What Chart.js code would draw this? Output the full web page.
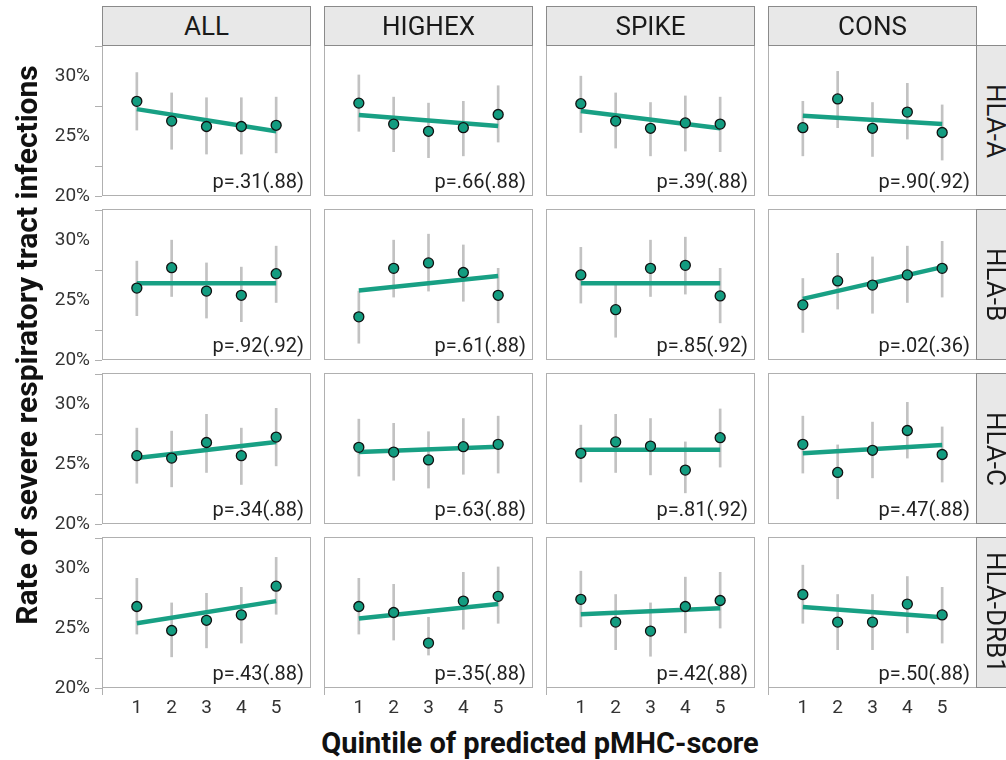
<!DOCTYPE html>
<html>
<head>
<meta charset="utf-8">
<script src="https://cdn.jsdelivr.net/npm/chart.js@4.4.1/dist/chart.umd.min.js"></script>
<style>
  body { margin: 0; background: #fff; font-family: Roboto, sans-serif; }
  #wrap { position: relative; width: 1006px; height: 760px; overflow: hidden; }
  canvas { position: absolute; }
  .strip { position: absolute; background: #e8e8e8; border: 1px solid #8a8a8a; box-sizing: border-box;
           color: #1a1a1a; font-size: 26px; display: flex; align-items: center; justify-content: center; }
  .rstrip { writing-mode: vertical-rl; }
  .title { position: absolute; font-weight: bold; font-size: 29px; color: #111; white-space: nowrap; }
</style>
</head>
<body>
<div id="wrap"></div>
<script>
// facets
var groups = ['ALL', 'HIGHEX', 'SPIKE', 'CONS'];
var genes = ['HLA-A', 'HLA-B', 'HLA-C', 'HLA-DRB1'];
var quintiles = [1, 2, 3, 4, 5];
var yTicks = [20, 22.5, 25, 27.5, 30, 32.5];
var xTicks = [0, 1, 2, 3, 4, 5, 6];

// rate (%) per quintile, one row per group (ALL, HIGHEX, SPIKE, CONS)
var rateA = [[27.9, 26.25, 25.8, 25.8, 25.9], [27.75, 26.0, 25.4, 25.7, 26.8], [27.7, 26.25, 25.65, 26.1, 26.0], [25.7, 28.1, 25.65, 27.0, 25.3]];
var lowA  = [[25.5, 23.9, 23.5, 23.5, 23.6], [25.4, 23.7, 23.2, 23.35, 24.5], [25.3, 24.0, 23.35, 23.75, 23.7], [23.35, 25.7, 23.3, 24.75, 23.0]];
var highA = [[30.3, 28.6, 28.2, 28.2, 28.25], [30.1, 28.25, 27.75, 27.9, 29.2], [30.0, 28.6, 27.8, 28.35, 28.25], [27.9, 30.4, 27.8, 29.4, 27.6]];
var fitA  = [[27.25, 25.4], [26.75, 25.85], [27.1, 25.65], [26.7, 26.0]];
var pA    = ['p=.31(.88)', 'p=.66(.88)', 'p=.39(.88)', 'p=.90(.92)'];

var rateB = [[26.0, 27.7, 25.75, 25.4, 27.2], [23.6, 27.65, 28.1, 27.3, 25.4], [27.1, 24.2, 27.65, 27.9, 25.35], [24.6, 26.6, 26.25, 27.1, 27.65]];
var lowB  = [[23.7, 25.3, 23.5, 23.2, 24.8], [21.4, 25.25, 25.75, 24.9, 23.1], [24.75, 21.9, 25.3, 25.5, 23.1], [22.3, 24.25, 23.9, 24.8, 25.25]];
var highB = [[28.25, 30.0, 28.1, 27.75, 29.5], [25.75, 30.0, 30.5, 29.6, 27.65], [29.4, 26.4, 30.0, 30.25, 27.65], [26.8, 28.9, 28.6, 29.5, 29.9]];
var fitB  = [[26.4, 26.4], [25.8, 27.0], [26.4, 26.4], [25.1, 27.75]];
var pB    = ['p=.92(.92)', 'p=.61(.88)', 'p=.85(.92)', 'p=.02(.36)'];

var rateC = [[25.7, 25.5, 26.8, 25.7, 27.25], [26.4, 26.0, 25.35, 26.45, 26.65], [25.9, 26.85, 26.5, 24.5, 27.2], [26.65, 24.3, 26.15, 27.8, 25.8]];
var lowC  = [[23.4, 23.1, 24.3, 23.3, 24.85], [24.0, 23.65, 23.0, 24.15, 24.25], [23.5, 24.3, 24.1, 22.6, 24.75], [24.25, 22.1, 23.85, 25.5, 23.5]];
var highC = [[28.0, 27.75, 29.15, 28.0, 29.65], [28.75, 28.4, 27.7, 28.8, 29.0], [28.25, 29.15, 28.8, 26.85, 29.6], [29.0, 26.6, 28.5, 30.15, 28.1]];
var fitC  = [[25.5, 26.85], [26.0, 26.45], [26.2, 26.2], [25.9, 26.6]];
var pC    = ['p=.34(.88)', 'p=.63(.88)', 'p=.81(.92)', 'p=.47(.88)'];

var rateD = [[26.8, 24.8, 25.65, 26.1, 28.5], [26.8, 26.3, 23.75, 27.25, 27.65], [27.4, 25.5, 24.75, 26.8, 27.3], [27.8, 25.5, 25.5, 27.0, 26.1]];
var lowD  = [[24.5, 22.6, 23.35, 23.75, 26.15], [24.5, 24.0, 22.75, 24.9, 25.4], [25.1, 23.2, 22.65, 24.6, 25.0], [25.4, 23.2, 23.2, 24.6, 23.75]];
var highD = [[29.15, 27.1, 27.9, 28.4, 30.9], [29.15, 28.65, 25.9, 29.65, 30.1], [29.75, 27.8, 27.1, 29.25, 29.65], [30.25, 27.8, 27.8, 29.3, 28.4]];
var fitD  = [[25.4, 27.25], [25.8, 27.0], [26.15, 26.65], [26.75, 25.9]];
var pD    = ['p=.43(.88)', 'p=.35(.88)', 'p=.42(.88)', 'p=.50(.88)'];

var rates = [rateA, rateB, rateC, rateD];
var lows = [lowA, lowB, lowC, lowD];
var highs = [highA, highB, highC, highD];
var fits = [fitA, fitB, fitC, fitD];
var pvals = [pA, pB, pC, pD];

// layout
var colLeft = [102, 324, 546, 768];
var rowTop = [45, 209, 373, 537];
var panelW = 209, panelH = 151;
var yAxisW = 62, xAxisH = 34, labelRoom = 12;

var wrap = document.getElementById('wrap');

function addDiv(cls, x, y, w, h, text) {
    var d = document.createElement('div');
    d.className = cls;
    d.style.left = x + 'px'; d.style.top = y + 'px';
    d.style.width = w + 'px'; d.style.height = h + 'px';
    d.textContent = text;
    wrap.appendChild(d);
    return d;
}

// panel border + p-value label
var panelDecor = {
    id: 'panelDecor',
    beforeDatasetsDraw: function(chart) {
        var a = chart.chartArea, ctx = chart.ctx;
        ctx.save();
        ctx.strokeStyle = '#b0b0b0';
        ctx.lineWidth = 1;
        ctx.strokeRect(a.left + 0.5, a.top + 0.5, a.right - a.left - 1, a.bottom - a.top - 1);
        ctx.restore();
    },
    afterDatasetsDraw: function(chart, args, opts) {
        var a = chart.chartArea, ctx = chart.ctx;
        ctx.save();
        ctx.font = '20px Roboto';
        ctx.fillStyle = '#222';
        ctx.textAlign = 'right';
        ctx.textBaseline = 'alphabetic';
        ctx.fillText(opts.label, a.right - 7, a.bottom - 8);
        ctx.restore();
    }
};

// fixed axis sizes so every panel has the same plot area
function fixScale(s, size) {
    if (s.options.display) {
        if (s.isHorizontal()) s.height = size; else s.width = size;
    } else {
        s.width = 0; s.height = 0;
    }
    s.paddingTop = 0; s.paddingBottom = 0; s.paddingLeft = 0; s.paddingRight = 0;
}

function makePanel(r, c) {
    var showY = c === 0, showX = r === 3;
    var padB = showX ? 0 : (showY ? labelRoom : 0);
    var cv = document.createElement('canvas');
    cv.width = panelW + (showY ? yAxisW : 0);
    cv.height = panelH + (showX ? xAxisH : 0) + padB;
    cv.style.left = (colLeft[c] - (showY ? yAxisW : 0)) + 'px';
    cv.style.top = rowTop[r] + 'px';
    wrap.appendChild(cv);

    var pts = [], bars = [];
    for (var i = 0; i < quintiles.length; i++) {
        pts.push({ x: quintiles[i], y: rates[r][c][i] });
        bars.push({ x: quintiles[i], y: [lows[r][c][i], highs[r][c][i]] });
    }
    var fit = [{ x: quintiles[0], y: fits[r][c][0] }, { x: quintiles[4], y: fits[r][c][1] }];

    new Chart(cv.getContext('2d'), {
        type: 'scatter',
        data: {
            datasets: [
                { type: 'scatter', data: pts, order: 0, pointRadius: 5, pointBackgroundColor: '#139c80',
                  pointBorderColor: '#111', pointBorderWidth: 1.3 },
                { type: 'line', data: fit, order: 1, borderColor: '#18a084', borderWidth: 4.5,
                  pointRadius: 0, fill: false },
                { type: 'bar', data: bars, order: 2, backgroundColor: '#c2c2c2', barThickness: 2,
                  grouped: false, borderWidth: 0 }
            ]
        },
        options: {
            responsive: false,
            animation: false,
            devicePixelRatio: 1,
            layout: { padding: { left: 0, right: 0, top: 0, bottom: padB }, autoPadding: false },
            plugins: { legend: { display: false }, tooltip: { enabled: false }, panelDecor: { label: pvals[r][c] } },
            scales: {
                x: {
                    type: 'linear', min: 0, max: 6, offset: false, display: showX,
                    afterBuildTicks: function(s) { s.ticks = xTicks.map(function(v) { return { value: v }; }); },
                    afterFit: function(s) { fixScale(s, xAxisH); },
                    grid: { offset: false, drawOnChartArea: false, drawTicks: true, tickLength: 7,
                            color: function(ctx) { return (ctx.tick && (ctx.tick.value === 0 || ctx.tick.value === 6)) ? '#b0b0b0' : 'rgba(0,0,0,0)'; } },
                    border: { display: false },
                    ticks: { padding: 2, color: '#333', font: { family: 'Roboto', size: 19 }, maxRotation: 0, autoSkip: false,
                             callback: function(v) { return (v >= 1 && v <= 5) ? String(v) : ''; } }
                },
                y: {
                    type: 'linear', min: 20, max: 32.6, display: showY,
                    afterBuildTicks: function(s) { s.ticks = yTicks.map(function(v) { return { value: v }; }); },
                    afterFit: function(s) { fixScale(s, yAxisW); },
                    grid: { offset: false, drawOnChartArea: false, drawTicks: true, tickLength: 7,
                            color: function(ctx) { return (ctx.tick && (ctx.tick.value === 25 || ctx.tick.value === 30)) ? 'rgba(0,0,0,0)' : '#b0b0b0'; } },
                    border: { display: false },
                    ticks: { padding: 5, color: '#333', font: { family: 'Roboto', size: 19 },
                             callback: function(v) { return (v % 5 === 0) ? v + '%' : ''; } }
                }
            }
        },
        plugins: [panelDecor]
    });
}

for (var r = 0; r < genes.length; r++) {
    for (var c = 0; c < groups.length; c++) {
        makePanel(r, c);
    }
}

// facet strips
for (var c = 0; c < groups.length; c++) {
    addDiv('strip', colLeft[c], 6, panelW, 40, groups[c]);
}
for (var r = 0; r < genes.length; r++) {
    addDiv('strip rstrip', colLeft[3] + panelW - 1, rowTop[r], 40, panelH, genes[r]);
}

// axis titles
var xt = addDiv('title', 37, 726, 1006, 34, 'Quintile of predicted pMHC-score');
xt.style.textAlign = 'center';
var yt = addDiv('title', 26 - 320, 345 - 17, 640, 34, 'Rate of severe respiratory tract infections');
yt.style.textAlign = 'center';
yt.style.fontSize = '30px';
yt.style.transform = 'rotate(-90deg)';
</script>
</body>
</html>
